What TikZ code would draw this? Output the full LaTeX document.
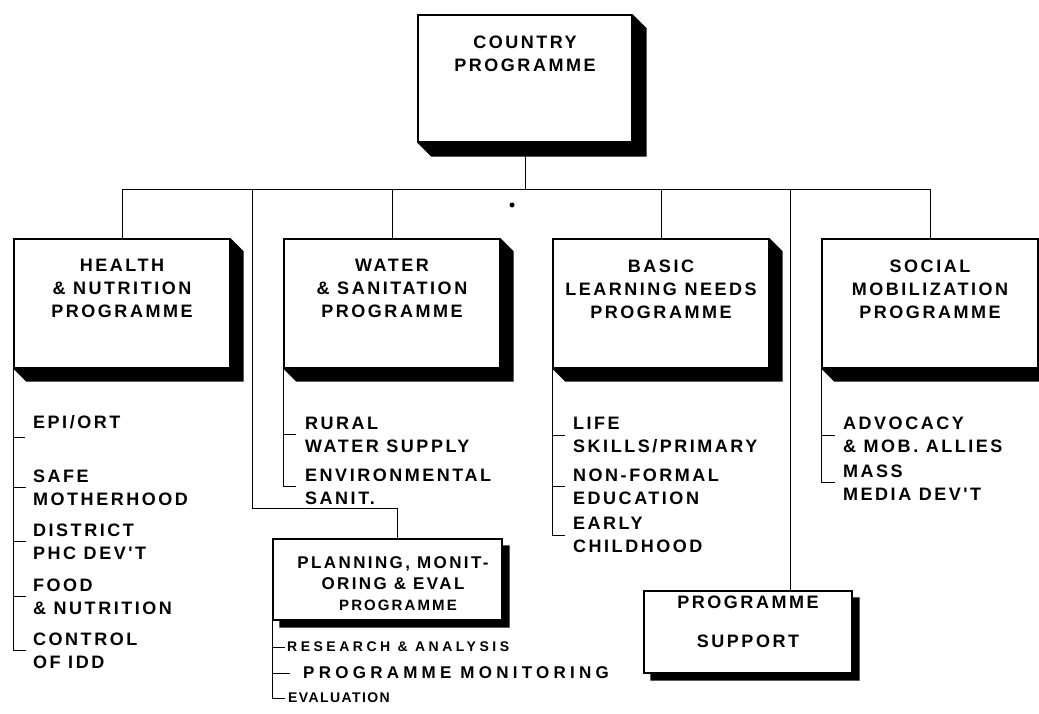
\documentclass[tikz,border=0pt]{standalone}
\usepackage{fontspec}
\setmainfont{Liberation Sans}
\newfontfamily\orgfont[LetterSpace=14]{Liberation Sans}
\newfontfamily\orgwide[LetterSpace=25]{Liberation Sans}
\newfontfamily\orgnarrow[LetterSpace=10]{Liberation Sans}
\usetikzlibrary{positioning}

\tikzset{
  prog/.style={draw, line width=1.3pt, fill=white, inner sep=0pt, minimum width=216pt, minimum height=129pt},
  title/.style={font=\orgfont\bfseries\fontsize{18}{23}\selectfont, align=center, inner sep=0pt},
  item/.style={font=\orgfont\bfseries\fontsize{18}{23}\selectfont, align=left, anchor=west, inner sep=0pt},
  link/.style={line width=1pt},
}

% extruded shadow of a box: node name, depth
\newcommand{\boxshade}[2]{%
  \fill (#1.south west) -- ++(#2,#2) -- ([shift={(#2,#2)}]#1.south east) -- ([shift={(#2,#2)}]#1.north east) -- (#1.north east) -- (#1.south east) -- cycle;}
% flat drop shadow of a box: node name, offset
\newcommand{\dropshade}[2]{%
  \fill ([shift={(#2,0)}]#1.south west) -- ([shift={(#2,#2)}]#1.south west) -- ([shift={(#2,#2)}]#1.south east) -- ([shift={(#2,#2)}]#1.north east) -- ([shift={(0,#2)}]#1.north east) -- (#1.south east) -- cycle;}

\begin{document}
\begin{tikzpicture}[x=1pt, y=-1pt]
                \useasboundingbox (0,0) rectangle (1039,714);
                
                % Drawing box country
                \node [prog, minimum width=214pt, minimum height=127pt] (country) at (525,78.5) {};%
                \node [title, below=21pt of country.north] (countryT) {COUNTRY\\PROGRAMME};%
                
                % Drawing boxes of the four programmes
                \node [prog] (health) at (122,303.5) {};%
                \node [title, below=21pt of health.north] (healthT) {HEALTH\\\& NUTRITION\\PROGRAMME};%
                \node [prog] (water) at (392,303.5) {};%
                \node [title, below=21pt of water.north] (waterT) {WATER\\\& SANITATION\\PROGRAMME};%
                \node [prog] (basic) at (661,303.5) {};%
                \node [title, below=21pt of basic.north] (basicT) {BASIC\\LEARNING NEEDS\\PROGRAMME};%
                \node [prog] (social) at (930,303.5) {};%
                \node [title, below=21pt of social.north] (socialT) {SOCIAL\\MOBILIZATION\\PROGRAMME};%
                
                % Drawing box planning
                \node [prog, minimum width=229pt, minimum height=81pt] (plan) at (387.5,579.5) {};%
                \node [title, font=\orgfont\bfseries\fontsize{17}{21}\selectfont, anchor=north] (planT) at (393,556) {PLANNING, MONIT-\\ORING \& EVAL};%
                \node [title, font=\orgfont\bfseries\fontsize{15}{18}\selectfont] (planP) at (398,605) {PROGRAMME};%
                
                % Drawing box support
                \node [prog, minimum width=208pt, minimum height=82pt] (support) at (748,632) {};%
                \node [title, below=5.5pt of support.north] (supportT) {PROGRAMME\\[16pt]SUPPORT};%
                
                % Drawing line country bus
                \coordinate (busL) at (122,190);%
                \coordinate (busR) at (930,190);%
                \draw [link] (health.north) -- (busL) -- (busR) -- (social.north);%
                \draw [link] (country.south) -- (country.south |- busL);%
                \draw [link] (water.north) -- (water.north |- busL);%
                \draw [link] (basic.north) -- (basic.north |- busL);%
                
                % Drawing line bus planning
                \coordinate (planIn) at (397,539);%
                \coordinate (planTurn) at (252,508);%
                \draw [link] (planIn) |- (planTurn) -- (planTurn |- busL);%
                
                % Drawing line bus support
                \coordinate (supportIn) at (790,591);%
                \draw [link] (supportIn) -- (supportIn |- busL);%
                
                % Drawing shadows
                \boxshade{country}{14}%
                \boxshade{health}{13}%
                \boxshade{water}{13}%
                \boxshade{basic}{13}%
                \boxshade{social}{13}%
                \dropshade{plan}{7}%
                \dropshade{support}{7}%
                
                % Marking the dot under the bus
                \fill (512,205) circle (2.5);%
                
                % Marking items of health
                \node [item] (epi) at (33,422) {EPI/ORT};%
                \node [item] (safe) at (33,487.5) {SAFE\\MOTHERHOOD};%
                \node [item] (district) at (33,541.5) {DISTRICT\\PHC DEV'T};%
                \node [item] (food) at (33,596.5) {FOOD\\\& NUTRITION};%
                \node [item] (control) at (33,650.5) {CONTROL\\OF IDD};%
                \draw [link] (health.south west) |- ([xshift=-7pt]control.west);%
                \draw [link] ([yshift=-15pt]epi.west -| health.west) -- ++(12,0);%
                \foreach \it in {safe,district,food}
                  \draw [link] (\it.west -| health.west) -- ([xshift=-7pt]\it.west);%
                
                % Marking items of water
                \node [item] (rural) at (305,434.5) {RURAL\\WATER SUPPLY};%
                \node [item] (environ) at (305,486.5) {ENVIRONMENTAL\\SANIT.};%
                \draw [link] (water.south west) |- ([xshift=-9pt]environ.west);%
                \draw [link] (rural.west -| water.west) -- ([xshift=-9pt]rural.west);%
                
                % Marking items of basic learning
                \node [item] (life) at (573,435) {LIFE\\SKILLS/PRIMARY};%
                \node [item] (nonformal) at (573,486.5) {NON-FORMAL\\EDUCATION};%
                \node [item] (early) at (573,535) {EARLY\\CHILDHOOD};%
                \draw [link] (basic.south west) |- ([xshift=-8pt]early.west);%
                \foreach \it in {life,nonformal}
                  \draw [link] (\it.west -| basic.west) -- ([xshift=-8pt]\it.west);%
                
                % Marking items of social mobilization
                \node [item] (advocacy) at (843,435) {ADVOCACY\\\& MOB. ALLIES};%
                \node [item] (mass) at (843,482.5) {MASS\\MEDIA DEV'T};%
                \draw [link] (social.south west) |- ([xshift=-8pt]mass.west);%
                \draw [link] (advocacy.west -| social.west) -- ([xshift=-8pt]advocacy.west);%
                
                % Marking items of planning
                \node [item, font=\orgwide\bfseries\fontsize{14}{17}\selectfont] (research) at (287,647) {RESEARCH \& ANALYSIS};%
                \node [item, font=\orgwide\bfseries\fontsize{17}{21}\selectfont] (monitor) at (303,673) {PROGRAMME MONITORING};%
                \node [item, font=\orgnarrow\bfseries\fontsize{14}{17}\selectfont] (evaluation) at (288,698) {EVALUATION};%
                \draw [link] (plan.south west) |- ([xshift=-3pt]evaluation.west);%
                \draw [link] (research.west -| plan.west) -- ([xshift=-2pt]research.west);%
                \draw [link] (monitor.west -| plan.west) -- ([xshift=-13pt]monitor.west);%
\end{tikzpicture}
\end{document}
